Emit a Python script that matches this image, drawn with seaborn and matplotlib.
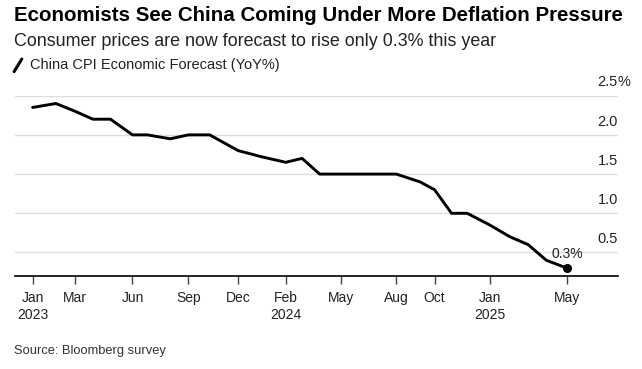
import pandas as pd
import matplotlib.pyplot as plt
import matplotlib.transforms as mtransforms
from matplotlib.lines import Line2D
import seaborn as sns

# Survey dates and median CPI forecast (YoY %)
survey_dates = ["2023-01-10", "2023-02-16", "2023-03-19", "2023-04-16", "2023-05-14",
                "2023-06-18", "2023-07-12", "2023-08-17", "2023-09-15", "2023-10-19",
                "2023-12-03", "2024-01-10", "2024-02-17", "2024-03-14", "2024-04-11",
                "2024-05-15", "2024-06-14", "2024-07-11", "2024-08-11", "2024-09-18",
                "2024-10-11", "2024-11-07", "2024-12-02", "2025-01-07", "2025-02-08",
                "2025-03-09", "2025-04-07", "2025-05-10"]
cpi_forecast = [2.35, 2.4, 2.3, 2.2, 2.2,
                2.0, 2.0, 1.95, 2.0, 2.0,
                1.8, 1.72, 1.65, 1.7, 1.5,
                1.5, 1.5, 1.5, 1.5, 1.4,
                1.3, 1.0, 1.0, 0.85, 0.7,
                0.6, 0.4, 0.3]

tick_dates = ["2023-01-10", "2023-03-19", "2023-06-18", "2023-09-15", "2023-12-03",
              "2024-02-17", "2024-05-15", "2024-08-11", "2024-10-11", "2025-01-07",
              "2025-05-10"]
tick_labels = ["Jan\n2023", "Mar", "Jun", "Sep", "Dec", "Feb\n2024", "May", "Aug",
               "Oct", "Jan\n2025", "May"]
y_ticks = [0.5, 1.0, 1.5, 2.0, 2.5]
y_labels = ["0.5", "1.0", "1.5", "2.0", "2.5"]

df = pd.DataFrame({"date": pd.to_datetime(survey_dates), "cpi": cpi_forecast})

sns.set_style("white")
plt.rcParams['font.family'] = ['Liberation Sans', 'DejaVu Sans']

fig = plt.figure(figsize=(6.42, 3.69), dpi=100)
ax = fig.add_axes([0.0234, 0.252, 0.9392, 0.4887])

sns.lineplot(data=df, x="date", y="cpi", color="black", linewidth=2.1, ax=ax)
last = df.iloc[-1]
ax.scatter([last["date"]], [last["cpi"]], color="black", s=30, zorder=5)
ax.annotate("0.3%", (last["date"], last["cpi"]), xytext=(0, 5), textcoords="offset points",
            ha="center", va="bottom", fontsize=10, color="#222222")

ax.set_xlim(pd.Timestamp("2022-12-13"), pd.Timestamp("2025-07-30"))
ax.set_ylim(0.2, 2.5)

# gridlines + labels sitting above them on the right
for v in y_ticks:
    ax.axhline(v, color="#dddddd", linewidth=1.0, zorder=0)
trans = mtransforms.blended_transform_factory(ax.transAxes, ax.transData)
for v, lab in zip(y_ticks, y_labels):
    ax.annotate(lab, (1.0, v), xycoords=trans, xytext=(0, 4.5), textcoords="offset points",
                ha="right", va="bottom", fontsize=10.5, color="#222222", annotation_clip=False)
ax.annotate("%", (1.0, 2.5), xycoords=trans, xytext=(0, 4.5), textcoords="offset points",
            ha="left", va="bottom", fontsize=10.5, color="#222222", annotation_clip=False)

ax.set_yticks([])
ax.set_xticks(pd.to_datetime(tick_dates))
ax.set_xticklabels(tick_labels, fontsize=10, color="#222222", linespacing=1.25)
ax.tick_params(axis="x", length=6, width=1, color="#444444", pad=5, direction="out")
ax.xaxis.set_ticks_position("bottom")
ax.set_xlabel("")
ax.set_ylabel("")

for side in ["top", "right", "left"]:
    ax.spines[side].set_visible(False)
ax.spines["bottom"].set_color("black")
ax.spines["bottom"].set_linewidth(1.2)

fig.text(0.022, 0.985, "Economists See China Coming Under More Deflation Pressure",
         fontsize=14.8, fontweight="bold", va="top", ha="left", color="black")
fig.text(0.022, 0.91, "Consumer prices are now forecast to rise only 0.3% this year",
         fontsize=12.9, va="top", ha="left", color="#222222")
fig.add_artist(Line2D([0.022, 0.034], [0.806, 0.840], color="black", linewidth=2.2,
                      transform=fig.transFigure))
fig.text(0.047, 0.825, "China CPI Economic Forecast (YoY%)",
         fontsize=10.5, va="center", ha="left", color="#222222")
fig.text(0.022, 0.048, "Source: Bloomberg survey",
         fontsize=9.3, va="center", ha="left", color="#333333")

fig.savefig("out.png", dpi=100)
